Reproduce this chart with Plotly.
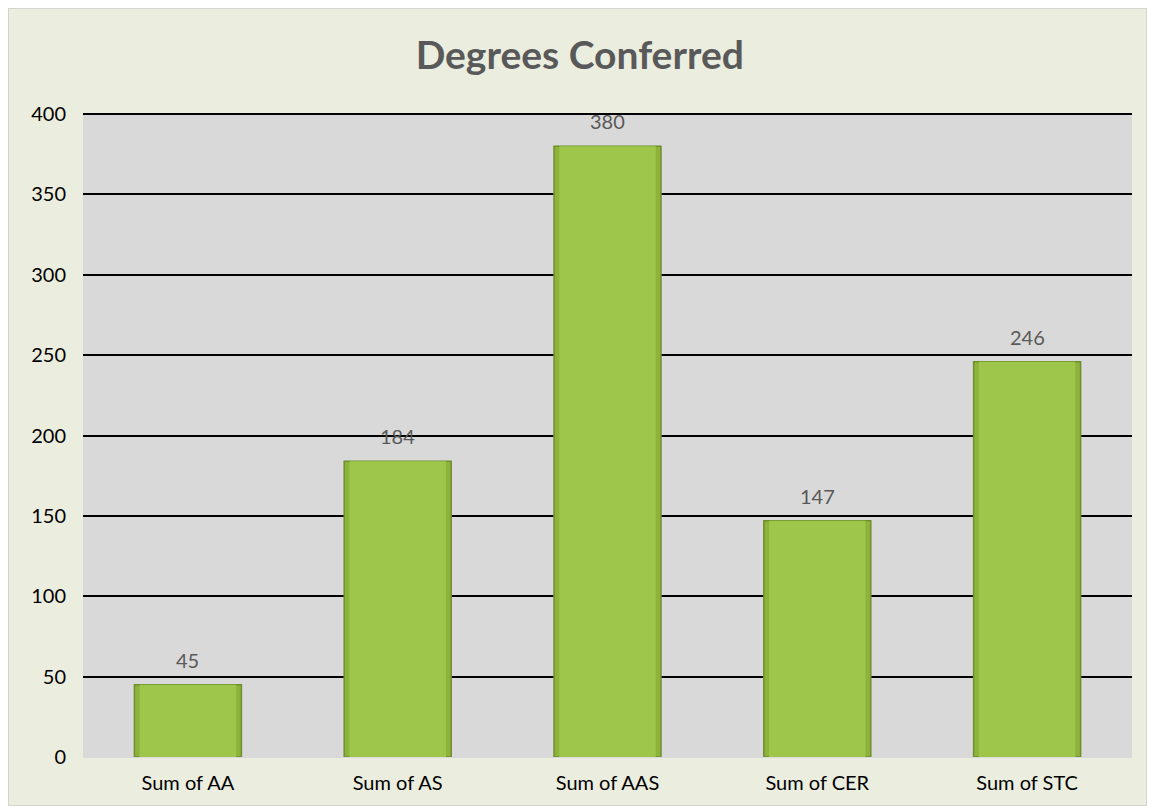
import plotly.graph_objects as go

categories = ["Sum of AA", "Sum of AS", "Sum of AAS", "Sum of CER", "Sum of STC"]
values = [45, 184, 380, 147, 246]
y_ticks = [0, 50, 100, 150, 200, 250, 300, 350, 400]

FONT = "Lato, 'Open Sans', sans-serif"

W, H = 1139, 798
ML, MR, MT, MB = 75, 15, 105, 49
PW, PH = W - ML - MR, H - MT - MB

fig = go.Figure()
fig.add_trace(go.Bar(
    x=categories, y=values,
    marker=dict(color="#8DB33C", line=dict(color="#6F8F2E", width=1.5)),
    width=0.51,
    hoverinfo="x+y",
))
# lighter inner face to suggest the bevel
fig.add_trace(go.Bar(
    x=categories, y=values,
    marker=dict(color="#9DC64A", line=dict(width=0)),
    width=0.46,
    hoverinfo="skip", showlegend=False,
))

annotations = [
    dict(x=c, y=v, text=str(v), showarrow=False, yshift=25, yanchor="middle",
         font=dict(family=FONT, size=20, color="#595959"))
    for c, v in zip(categories, values)
]

fig.update_layout(
    width=W, height=H,
    barmode="overlay",
    showlegend=False,
    paper_bgcolor="#EBEEDF",
    plot_bgcolor="#D9D9D9",
    margin=dict(l=ML, r=MR, t=MT, b=MB),
    title=dict(text="<b>Degrees Conferred</b>", x=0.502, xanchor="center",
               y=0.941, yanchor="middle",
               font=dict(family=FONT, size=39, color="#595959")),
    xaxis=dict(showgrid=False, showline=False, ticks="outside", ticklen=8,
               tickcolor="rgba(0,0,0,0)",
               tickfont=dict(family=FONT, size=20, color="#000000")),
    yaxis=dict(range=[0, 400.7], tickvals=y_ticks, showgrid=True,
               gridcolor="#000000", gridwidth=2,
               zeroline=True, zerolinecolor="#D9D9D9", zerolinewidth=1,
               ticks="outside", ticklen=12, tickcolor="rgba(0,0,0,0)",
               tickfont=dict(family=FONT, size=20, color="#000000")),
    annotations=annotations,
    shapes=[dict(type="rect", xref="paper", yref="paper",
                 x0=-ML / PW, x1=1 + MR / PW, y0=-MB / PH, y1=1 + MT / PH,
                 line=dict(color="#D5D5D0", width=2), layer="below")],
)

fig.write_html("out.html")
